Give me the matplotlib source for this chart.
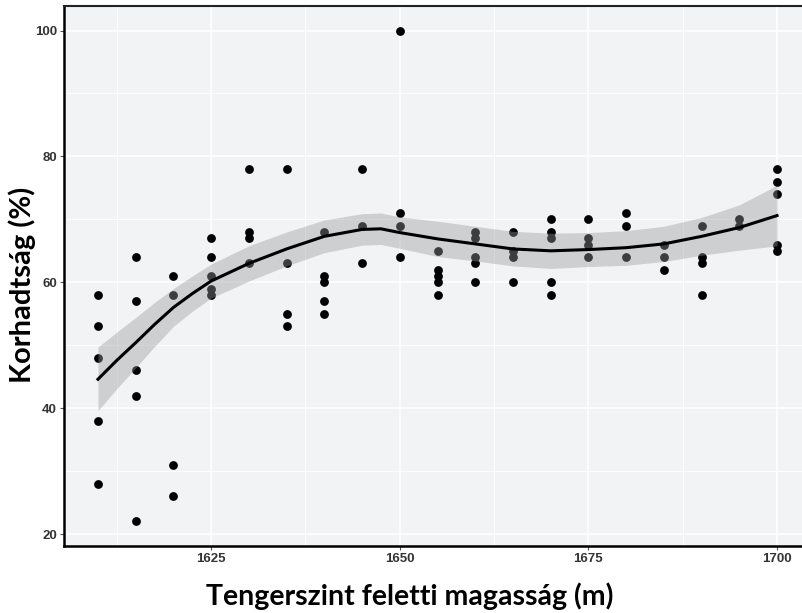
import matplotlib
matplotlib.use('Agg')
import matplotlib.pyplot as plt

# tengerszint feletti magasság (m) és korhadtság (%)
elevation = [1610] * 5 + [1615] * 5 + [1620] * 4 + [1625] * 5 + [1630] * 4 \
    + [1635] * 4 + [1640] * 5 + [1645] * 3 + [1650] * 4 + [1655] * 5 \
    + [1660] * 5 + [1665] * 4 + [1670] * 5 + [1675] * 4 + [1680] * 3 \
    + [1685] * 3 + [1690] * 4 + [1695] * 2 + [1700] * 5
decay = [58, 53, 48, 38, 28,
         64, 57, 46, 42, 22,
         61, 58, 31, 26,
         67, 64, 61, 59, 58,
         78, 68, 67, 63,
         78, 63, 55, 53,
         68, 61, 60, 57, 55,
         78, 69, 63,
         100, 71, 69, 64,
         65, 62, 61, 60, 58,
         68, 67, 64, 63, 60,
         68, 65, 64, 60,
         70, 68, 67, 60, 58,
         70, 67, 66, 64,
         71, 69, 64,
         66, 64, 62,
         69, 64, 63, 58,
         70, 69,
         78, 76, 74, 66, 65]

# simított görbe (loess) és 95%-os sáv
smooth_x = [1610, 1612.5, 1615, 1617.5, 1620, 1622.5, 1625, 1630, 1635, 1640,
            1645, 1647.5, 1650, 1655, 1660, 1665, 1670, 1675, 1680, 1685,
            1690, 1695, 1700]
smooth_fit = [44.6, 47.6, 50.4, 53.3, 56.0, 58.2, 60.2, 63.0, 65.3, 67.3,
              68.4, 68.5, 67.9, 66.9, 66.1, 65.3, 65.0, 65.2, 65.5, 66.1,
              67.3, 68.7, 70.6]
smooth_hi = [49.7, 52.1, 54.4, 56.8, 59.0, 61.0, 62.9, 65.8, 68.0, 69.9,
             70.9, 71.0, 70.4, 69.7, 68.9, 68.1, 67.8, 67.9, 68.2, 68.9,
             70.3, 72.3, 75.4]
smooth_lo = [39.6, 43.1, 46.4, 49.8, 53.0, 55.4, 57.5, 60.2, 62.6, 64.7,
             65.9, 66.0, 65.4, 64.1, 63.4, 62.6, 62.2, 62.5, 62.7, 63.3,
             64.3, 65.1, 65.8]

x_ticks = [1625, 1650, 1675, 1700]
y_ticks = [20, 40, 60, 80, 100]

fig = plt.figure(figsize=(8.02, 6.13), dpi=100)
ax = fig.add_axes([64 / 802, 67 / 613, 747 / 802, 540 / 613])
ax.set_facecolor('#f2f3f5')

ax.scatter(elevation, decay, s=40, color='black', linewidths=0, zorder=3)
ax.fill_between(smooth_x, smooth_lo, smooth_hi, color='#999999', alpha=0.4,
                linewidth=0, zorder=4)
ax.plot(smooth_x, smooth_fit, color='black', linewidth=2.2,
        solid_joinstyle='round', zorder=5)

ax.set_xlim(1605.5, 1704.5)
ax.set_ylim(18.1, 103.9)
ax.set_xticks(x_ticks)
ax.set_yticks(y_ticks)
ax.set_xticks([1612.5, 1637.5, 1662.5, 1687.5], minor=True)
ax.set_yticks([30, 50, 70, 90], minor=True)
ax.grid(True, which='major', color='white', linewidth=1.1, zorder=0)
ax.grid(True, which='minor', color='white', linewidth=0.6, zorder=0)
ax.set_axisbelow(True)
ax.tick_params(which='minor', length=0)
ax.tick_params(which='major', length=3, width=0.8, color='#555555',
               labelsize=9.5, labelcolor='#333333', pad=2)
for lab in ax.get_xticklabels() + ax.get_yticklabels():
    lab.set_fontweight('bold')
    lab.set_family('Liberation Sans')

for side in ['left', 'bottom']:
    ax.spines[side].set_linewidth(1.8)
    ax.spines[side].set_color('black')
ax.spines['top'].set_linewidth(1.5)
ax.spines['top'].set_color('#222222')
ax.spines['right'].set_visible(False)

fig.text(22 / 802, 1 - 285 / 613, 'Korhadtság (%)', rotation=90, ha='center',
         va='center', fontsize=21, fontweight='bold', family='Lato')
fig.text(410 / 802, 1 - 596 / 613, 'Tengerszint feletti magasság (m)',
         ha='center', va='center', fontsize=20.5, fontweight='bold', family='Lato')

fig.savefig('out.png', dpi=100)
